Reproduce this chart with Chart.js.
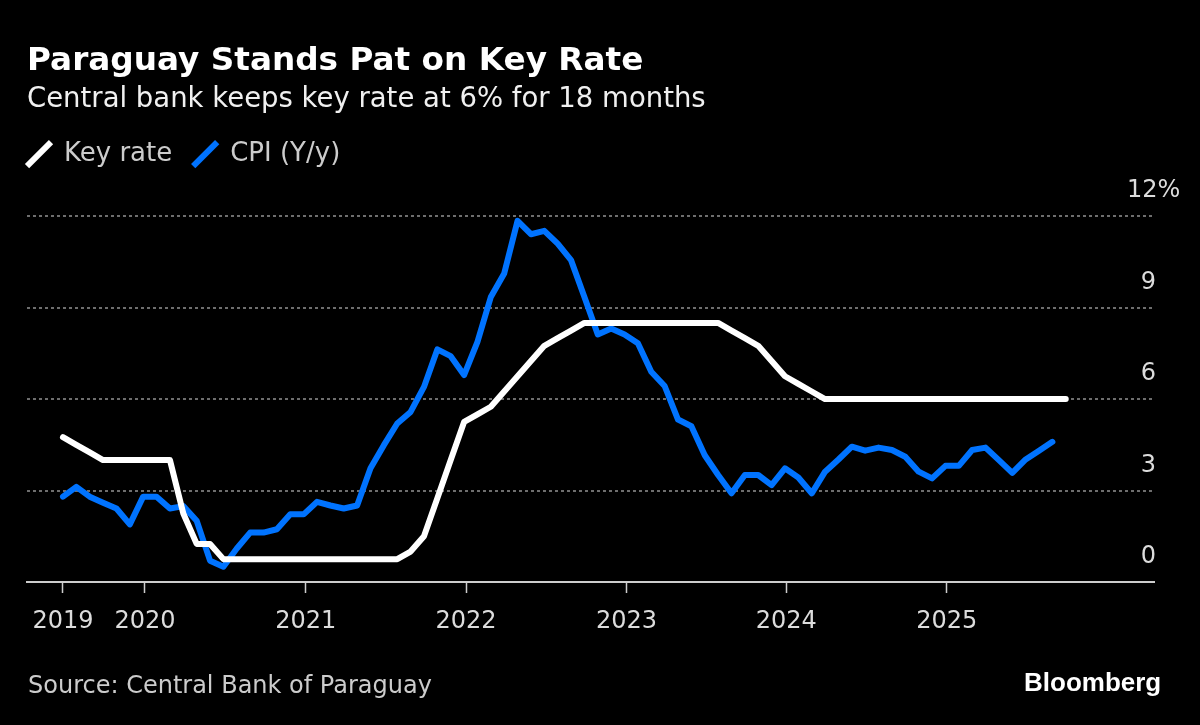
<!DOCTYPE html>
<html>
<head>
<meta charset="utf-8">
<title>Paraguay Stands Pat on Key Rate</title>
<script src="https://cdn.jsdelivr.net/npm/chart.js@4/dist/chart.umd.min.js"></script>
<style>
  html, body { margin: 0; padding: 0; background: #000; }
  canvas { display: block; }
</style>
</head>
<body>
<canvas id="rateChart" width="1200" height="725"></canvas>
<script>
// monthly values, first point is end of June 2019
const keyRate = [
    4.75, 4.5, 4.25, 4, 4, 4, 4, 4, 4, 2.25,
    1.25, 1.25, 0.75, 0.75, 0.75, 0.75, 0.75, 0.75, 0.75, 0.75,
    0.75, 0.75, 0.75, 0.75, 0.75, 0.75, 1, 1.5, 2.75, 4,
    5.25, 5.5, 5.75, 6.25, 6.75, 7.25, 7.75, 8, 8.25, 8.5,
    8.5, 8.5, 8.5, 8.5, 8.5, 8.5, 8.5, 8.5, 8.5, 8.5,
    8.25, 8, 7.75, 7.25, 6.75, 6.5, 6.25, 6, 6, 6,
    6, 6, 6, 6, 6, 6, 6, 6, 6, 6,
    6, 6, 6, 6, 6, 6
];
const cpi = [
    2.8, 3.12, 2.8, 2.6, 2.41, 1.89, 2.8, 2.8, 2.41, 2.49,
    2.01, 0.7, 0.5, 1.1, 1.62, 1.62, 1.73, 2.22, 2.22, 2.63,
    2.51, 2.41, 2.51, 3.73, 4.49, 5.2, 5.58, 6.4, 7.63, 7.41,
    6.79, 7.88, 9.35, 10.12, 11.85, 11.41, 11.52, 11.1, 10.56, 9.35,
    8.12, 8.32, 8.12, 7.83, 6.9, 6.43, 5.33, 5.11, 4.16, 3.51,
    2.91, 3.51, 3.51, 3.18, 3.73, 3.43, 2.91, 3.62, 4.02, 4.44,
    4.31, 4.41, 4.33, 4.11, 3.62, 3.4, 3.81, 3.81, 4.33, 4.41,
    4, 3.58, 4.02, 4.31, 4.6
];
const xTickMonths = [0, 6.13, 18.16, 30.15, 42.15, 54.1, 66.1];
const xTickLabels = ['2019', '2020', '2021', '2022', '2023', '2024', '2025'];
const yTicks = [0, 3, 6, 9, 12];
const yTickLabels = ['0', '3', '6', '9', '12%'];

const sans = '"DejaVu Sans"';

// y labels sit above their gridlines, "12%" hangs past the others
const yLabelsPlugin = {
    id: 'yLabels',
    afterDraw(chart) {
        const { ctx, scales: { y } } = chart;
        ctx.save();
        ctx.font = '24px ' + sans;
        ctx.fillStyle = '#dcdcdc';
        ctx.textBaseline = 'middle';
        yTicks.forEach((v, i) => {
            const py = y.getPixelForValue(v) - 25;
            ctx.textAlign = v === 12 ? 'left' : 'right';
            ctx.fillText(yTickLabels[i], v === 12 ? 1127 : 1156, py);
        });
        ctx.restore();
    }
};

const footerPlugin = {
    id: 'footer',
    afterDraw(chart) {
        const { ctx } = chart;
        ctx.save();
        ctx.textBaseline = 'alphabetic';
        ctx.textAlign = 'left';
        ctx.font = '24px ' + sans;
        ctx.fillStyle = '#cccccc';
        ctx.fillText('Source: Central Bank of Paraguay', 28, 693);
        ctx.font = 'bold 26px "Liberation Sans"';
        ctx.fillStyle = '#ffffff';
        ctx.fillText('Bloomberg', 1024, 691);
        ctx.restore();
    }
};

// legend needs room below it and has to start further left than its padding allows
const legendSpacePlugin = {
    id: 'legendSpace',
    beforeInit(chart) {
        const fit = chart.legend.fit;
        chart.legend.fit = function () {
            fit.call(this);
            this.height += 39;
        };
    },
    afterLayout(chart) {
        chart.legend.left = 6;
    }
};

const bgPlugin = {
    id: 'bg',
    beforeDraw(chart) {
        chart.ctx.save();
        chart.ctx.fillStyle = '#000000';
        chart.ctx.fillRect(0, 0, chart.width, chart.height);
        chart.ctx.restore();
    }
};

const ctx = document.getElementById('rateChart').getContext('2d');
const rateChart = new Chart(ctx, {
    type: 'line',
    data: {
        datasets: [{
            label: 'Key rate',
            data: keyRate.map((v, i) => ({ x: i, y: v })),
            borderColor: '#ffffff',
            borderWidth: 6,
            borderCapStyle: 'round',
            borderJoinStyle: 'round',
            pointRadius: 0,
            tension: 0
        }, {
            label: 'CPI (Y/y)',
            data: cpi.map((v, i) => ({ x: i, y: v })),
            borderColor: '#0073ff',
            borderWidth: 6,
            borderCapStyle: 'round',
            borderJoinStyle: 'round',
            pointRadius: 0,
            tension: 0
        }]
    },
    options: {
        responsive: false,
        animation: false,
        devicePixelRatio: 1,
        layout: { padding: { left: 27, right: 46, top: 42, bottom: 0 } },
        scales: {
            x: {
                type: 'linear',
                min: -2.69,
                max: 81.6,
                afterBuildTicks(scale) {
                    scale.ticks = xTickMonths.map(v => ({ value: v }));
                },
                afterFit(scale) { scale.height = 143; },
                grid: {
                    drawOnChartArea: false,
                    drawTicks: true,
                    tickLength: 11,
                    tickWidth: 1.5,
                    tickColor: '#cccccc'
                },
                border: { color: '#cccccc', width: 2 },
                ticks: {
                    autoSkip: false,
                    maxRotation: 0,
                    padding: 14,
                    color: '#dcdcdc',
                    font: { family: sans, size: 24 },
                    callback: v => xTickLabels[xTickMonths.indexOf(v)]
                }
            },
            y: {
                position: 'right',
                min: 0,
                max: 12,
                afterBuildTicks(scale) {
                    scale.ticks = yTicks.map(v => ({ value: v }));
                },
                afterFit(scale) { scale.width = 0; },
                grid: {
                    drawTicks: false,
                    color: c => c.tick && c.tick.value === 0 ? 'transparent' : '#6e6e6e',
                    lineWidth: 2
                },
                border: { display: false, dash: [3, 3] },
                ticks: { display: false }
            }
        },
        plugins: {
            title: {
                display: true,
                align: 'start',
                text: 'Paraguay Stands Pat on Key Rate',
                color: '#ffffff',
                font: { family: sans, size: 32.7, weight: 'bold' },
                padding: { top: 0, bottom: 2 }
            },
            subtitle: {
                display: true,
                align: 'start',
                text: 'Central bank keeps key rate at 6% for 18 months',
                color: '#f0f0f0',
                font: { family: sans, size: 27.5, weight: 'normal' },
                padding: { top: 0, bottom: 4 }
            },
            legend: {
                display: true,
                position: 'top',
                align: 'start',
                labels: {
                    usePointStyle: true,
                    boxHeight: 24,
                    boxWidth: 24,
                    color: '#cccccc',
                    font: { family: sans, size: 26 },
                    padding: 21,
                    generateLabels(chart) {
                        return chart.data.datasets.map((d, i) => ({
                            text: d.label,
                            datasetIndex: i,
                            strokeStyle: d.borderColor,
                            fillStyle: d.borderColor,
                            lineWidth: 6,
                            pointStyle: 'line',
                            rotation: -45,
                            fontColor: '#cccccc'
                        }));
                    }
                }
            },
            tooltip: { enabled: false }
        }
    },
    plugins: [legendSpacePlugin, bgPlugin, yLabelsPlugin, footerPlugin]
});
</script>
</body>
</html>
